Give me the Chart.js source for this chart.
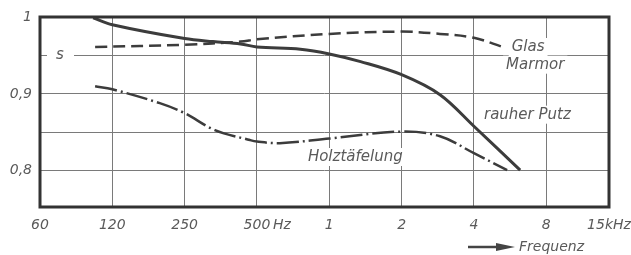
<!DOCTYPE html>
<html>
<head>
<meta charset="utf-8">
<script src="https://cdn.jsdelivr.net/npm/chart.js@4"></script>
<style>
  html, body { margin: 0; padding: 0; background: #fff; }
  #wrap { width: 631px; height: 255px; }
</style>
</head>
<body>
<div id="wrap"><canvas id="chart"></canvas></div>
<script>
// Werte (Frequenz in Hz, Reflexionsgrad)
const putzFreq = [104, 125, 250, 328, 427, 500, 758, 1000, 1350, 2000, 2890, 4000, 6230];
const putzVal  = [0.999, 0.990, 0.972, 0.968, 0.965, 0.961, 0.958, 0.952, 0.942, 0.925, 0.899, 0.858, 0.801];

const glasFreq = [106, 250, 427, 500, 1000, 2000, 2890, 4000, 5280];
const glasVal  = [0.961, 0.964, 0.968, 0.971, 0.978, 0.981, 0.978, 0.973, 0.961];

const holzFreq = [106, 125, 197, 250, 334, 467, 500, 623, 1000, 2000, 2890, 4000, 5500];
const holzVal  = [0.910, 0.906, 0.888, 0.875, 0.853, 0.840, 0.838, 0.836, 0.842, 0.851, 0.845, 0.823, 0.801];

// Achsen
const xTickValues = [62.5, 125, 250, 500, 1000, 2000, 4000, 8000, 14600];
const xTickLabels = ['60', '120', '250', '500', '1', '2', '4', '8', '15kHz'];
const yTickValues = [0.8, 0.85, 0.9, 0.95, 1.0];
const yTickLabels = ['0,8', '', '0,9', '', '1'];

// Beschriftungen an den Kurven (Frequenz, Wert, Text)
const curveLabels = [
    { f: 6725, v: 0.961, text: 'Glas' },
    { f: 7200, v: 0.938, text: 'Marmor' },
    { f: 6680, v: 0.873, text: 'rauher Putz' },
    { f: 1283, v: 0.818, text: 'Holztäfelung' }
];

const toPoints = (fs, vs) => fs.map((f, i) => ({ x: f, y: vs[i] }));

const lineColor = '#3c3c3c';
const textColor = '#5a5a5a';
const gridColor = '#7a7a7a';
const labelFont = 'italic 15px "DejaVu Sans"';

Chart.defaults.font.family = '"DejaVu Sans"';
Chart.defaults.font.style = 'italic';
Chart.defaults.font.size = 14;
Chart.defaults.color = textColor;

const decorPlugin = {
    id: 'decor',
    beforeDatasetsDraw(chart) {
        const { ctx, chartArea, scales } = chart;
        ctx.save();
        // "s" auf der 0,95-Linie
        const sy = scales.y.getPixelForValue(0.95);
        ctx.fillStyle = '#fff';
        ctx.fillRect(chartArea.left + 7, sy - 3, 27, 6);
        ctx.fillStyle = textColor;
        ctx.font = labelFont;
        ctx.textAlign = 'center';
        ctx.textBaseline = 'middle';
        ctx.fillText('s', chartArea.left + 20, sy);
        // Kurvenbeschriftungen mit weissem Hintergrund
        curveLabels.forEach(l => {
            const x = scales.x.getPixelForValue(l.f);
            const y = scales.y.getPixelForValue(l.v);
            const w = ctx.measureText(l.text).width;
            ctx.fillStyle = '#fff';
            ctx.fillRect(x - w / 2 - 3, y - 9, w + 6, 18);
            ctx.fillStyle = textColor;
            ctx.fillText(l.text, x, y);
        });
        ctx.restore();
    },
    afterDraw(chart) {
        const { ctx, chartArea, scales } = chart;
        ctx.save();
        // Rahmen
        ctx.strokeStyle = '#333';
        ctx.lineWidth = 3;
        ctx.strokeRect(chartArea.left, chartArea.top, chartArea.right - chartArea.left, chartArea.bottom - chartArea.top);
        // Einheit "Hz" hinter der 500
        ctx.fillStyle = textColor;
        ctx.font = 'italic 14px "DejaVu Sans"';
        ctx.textAlign = 'left';
        ctx.textBaseline = 'middle';
        ctx.fillText('Hz', scales.x.getPixelForValue(500) + 16, chartArea.bottom + 18);
        // Pfeil + "Frequenz"
        const ay = chartArea.bottom + 40;
        ctx.strokeStyle = '#444';
        ctx.lineWidth = 2.5;
        ctx.beginPath();
        ctx.moveTo(468, ay);
        ctx.lineTo(500, ay);
        ctx.stroke();
        ctx.fillStyle = '#444';
        ctx.beginPath();
        ctx.moveTo(496, ay - 4);
        ctx.lineTo(515, ay);
        ctx.lineTo(496, ay + 4);
        ctx.closePath();
        ctx.fill();
        ctx.fillStyle = textColor;
        ctx.fillText('Frequenz', 519, ay);
        ctx.restore();
    }
};

new Chart(document.getElementById('chart'), {
    type: 'line',
    data: {
        datasets: [
            {
                label: 'rauher Putz',
                data: toPoints(putzFreq, putzVal),
                borderColor: lineColor,
                borderWidth: 3,
                pointRadius: 0,
                tension: 0.35
            },
            {
                label: 'Glas, Marmor',
                data: toPoints(glasFreq, glasVal),
                borderColor: lineColor,
                borderWidth: 2.5,
                borderDash: [12, 6],
                pointRadius: 0,
                tension: 0.35
            },
            {
                label: 'Holztäfelung',
                data: toPoints(holzFreq, holzVal),
                borderColor: lineColor,
                borderWidth: 2.5,
                borderDash: [22, 4, 2, 4],
                pointRadius: 0,
                tension: 0.35
            }
        ]
    },
    options: {
        responsive: true,
        maintainAspectRatio: false,
        animation: false,
        layout: { padding: { top: 17, right: 22, left: 0, bottom: 0 } },
        plugins: {
            legend: { display: false },
            tooltip: { enabled: false }
        },
        scales: {
            x: {
                type: 'logarithmic',
                min: 62.5,
                max: 14600,
                afterBuildTicks: s => { s.ticks = xTickValues.map(v => ({ value: v })); },
                afterFit: s => { s.height = 48; s.paddingLeft = 0; s.paddingRight = 0; },
                ticks: {
                    autoSkip: false,
                    maxRotation: 0,
                    padding: 10,
                    color: textColor,
                    callback: (v, i) => xTickLabels[i]
                },
                grid: { color: gridColor, lineWidth: 1, drawTicks: false },
                border: { display: false }
            },
            y: {
                min: 0.753,
                max: 1.0,
                afterBuildTicks: s => { s.ticks = yTickValues.map(v => ({ value: v })); },
                afterFit: s => { s.width = 40; },
                ticks: {
                    padding: 8,
                    color: textColor,
                    callback: (v, i) => yTickLabels[i]
                },
                grid: { color: gridColor, lineWidth: 1, drawTicks: false },
                border: { display: false }
            }
        }
    },
    plugins: [decorPlugin]
});
</script>
</body>
</html>
